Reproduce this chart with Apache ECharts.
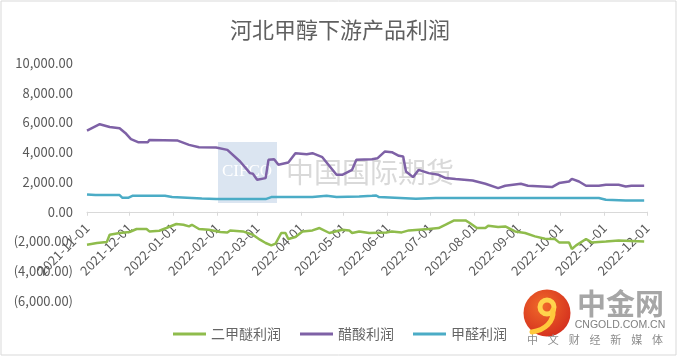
<!DOCTYPE html>
<html><head><meta charset="utf-8">
<script src="https://cdn.jsdelivr.net/npm/echarts@6/dist/echarts.min.js"></script>
<style>html,body{margin:0;padding:0;background:#fff}#c{width:680px;height:358px}</style>
</head><body><div id="c"></div>
<script>
// ---- data ----
var monthTicks = ['2021-11-01','2021-12-01','2022-01-01','2022-02-01','2022-03-01','2022-04-01','2022-05-01','2022-06-01','2022-07-01','2022-08-01','2022-09-01','2022-10-01','2022-11-01','2022-12-01'];
var seriesNames = ['二甲醚利润','醋酸利润','甲醛利润'];

var dmeDates = ['2021-11-01','2021-11-08','2021-11-15','2021-11-17','2021-11-24','2021-12-01','2021-12-06','2021-12-13','2021-12-15','2021-12-22','2021-12-27','2022-01-03','2022-01-08','2022-01-12','2022-01-14','2022-01-19','2022-01-26','2022-02-03','2022-02-08','2022-02-10','2022-02-19','2022-02-26','2022-03-03','2022-03-07','2022-03-11','2022-03-14','2022-03-18','2022-03-21','2022-03-23','2022-03-28','2022-04-02','2022-04-09','2022-04-14','2022-04-21','2022-04-30','2022-05-05','2022-05-07','2022-05-12','2022-05-19','2022-05-31','2022-06-04','2022-06-11','2022-06-16','2022-06-23','2022-06-30','2022-07-07','2022-07-12','2022-07-18','2022-07-26','2022-07-29','2022-08-03','2022-08-09','2022-08-11','2022-08-18','2022-08-23','2022-08-30','2022-09-06','2022-09-13','2022-09-20','2022-09-27','2022-09-30','2022-10-07','2022-10-09','2022-10-12','2022-10-19','2022-10-23','2022-11-02','2022-11-11','2022-11-29'];
var dmeValues = [-2214,-2100,-2033,-1543,-1429,-1362,-1161,-1161,-1322,-1275,-1094,-825,-872,-986,-872,-1161,-1208,-1362,-1389,-1255,-1322,-1543,-1879,-2100,-2261,-2147,-1429,-1429,-1832,-1698,-1322,-1255,-1094,-1429,-1208,-1255,-1429,-1322,-1429,-1389,-1322,-1389,-1255,-1208,-1161,-1094,-872,-584,-584,-760,-1094,-1094,-939,-1027,-986,-1322,-1429,-1657,-1812,-1832,-2060,-2060,-2503,-2261,-1832,-2060,-1993,-1926,-1993];

var aceticDates = ['2021-11-01','2021-11-10','2021-11-17','2021-11-24','2021-11-28','2021-12-02','2021-12-07','2021-12-14','2021-12-15','2022-01-04','2022-01-12','2022-01-19','2022-01-31','2022-02-08','2022-02-17','2022-02-24','2022-02-26','2022-03-01','2022-03-07','2022-03-09','2022-03-13','2022-03-16','2022-03-23','2022-03-28','2022-04-05','2022-04-09','2022-04-16','2022-04-26','2022-04-30','2022-05-07','2022-05-10','2022-05-21','2022-05-25','2022-05-30','2022-06-04','2022-06-09','2022-06-12','2022-06-14','2022-06-19','2022-06-23','2022-06-30','2022-07-07','2022-07-12','2022-07-19','2022-07-31','2022-08-09','2022-08-18','2022-08-23','2022-09-03','2022-09-08','2022-09-25','2022-09-30','2022-10-07','2022-10-09','2022-10-14','2022-10-19','2022-10-28','2022-11-02','2022-11-11','2022-11-16','2022-11-20','2022-11-29'];
var aceticValues = [5455,5885,5700,5615,5300,4878,4677,4677,4831,4785,4496,4340,4316,4160,3375,2597,2550,2147,2261,3489,3536,3154,3308,3939,3872,3939,3670,2483,2483,2818,3489,3536,3600,4046,4006,3758,3713,2704,2328,2818,2597,2483,2261,2194,2100,1879,1590,1745,1879,1745,1657,1926,2033,2214,2033,1745,1745,1812,1812,1700,1745,1745];

var formalDates = ['2021-11-01','2021-11-07','2021-11-24','2021-11-26','2021-11-30','2021-12-03','2021-12-26','2021-12-31','2022-01-21','2022-01-31','2022-03-07','2022-03-11','2022-04-09','2022-04-19','2022-04-26','2022-05-12','2022-05-21','2022-05-24','2022-05-26','2022-06-21','2022-07-05','2022-10-28','2022-11-02','2022-11-16','2022-11-29'];
var formalValues = [1161,1120,1120,939,939,1074,1074,986,892,852,852,986,986,1074,986,1027,1074,1094,986,872,919,919,805,758,758];

var yTicks = {min:-6000, max:10000, interval:2000};

// ---- build axis categories (every calendar day) ----
var categories = [];
(function(){
  var d = new Date(Date.UTC(2021,10,1)), end = new Date(Date.UTC(2022,11,1));
  while (d <= end) { categories.push(d.toISOString().slice(0,10)); d = new Date(d.getTime()+86400000); }
})();
var idx = {}; categories.forEach(function(c,i){ idx[c]=i; });
function pairs(dates, vals){ return dates.map(function(d,i){ return [idx[d], vals[i]]; }); }
var tickSet = {}; monthTicks.forEach(function(m){ tickSet[m]=true; });
function showTick(i, v){ return !!tickSet[v]; }

function fmt(v){
  var s = Math.abs(v).toLocaleString('en-US',{minimumFractionDigits:2,maximumFractionDigits:2});
  return v < 0 ? '(' + s + ')' : s;
}

var colors = ['#8FBC4C','#7E61A6','#4BACC6'];
var txt = '#595959';
var cjk = '"Noto Sans CJK SC", "Microsoft YaHei", sans-serif';

var chart = echarts.init(document.getElementById('c'), null, {renderer:'canvas'});

var graphics = [
  {type:'rect', shape:{x:1,y:1,width:675,height:354}, style:{fill:null, stroke:'#d9d9d9', lineWidth:1}, z:-20, silent:true},
  {type:'rect', shape:{x:218,y:142,width:59,height:61}, style:{fill:'#dbe5f1'}, z:-10, silent:true},
  {type:'text', x:247, y:172, style:{text:'CIFCO', fill:'#ffffff', font:'17px "Liberation Serif", serif', textAlign:'center', textVerticalAlign:'middle'}, z:-9, silent:true},
  {type:'text', x:286, y:172, style:{text:'中国国际期货', fill:'#d9d9d9', font:'28px ' + cjk, textAlign:'left', textVerticalAlign:'middle'}, z:-9, silent:true},
  // logo
  {type:'circle', shape:{cx:547,cy:313,r:23.5}, style:{fill:new echarts.graphic.RadialGradient(0.4,0.35,0.8,[{offset:0,color:'#f06a2a'},{offset:1,color:'#d0261c'}])}, z:10, silent:true},
  {type:'arc', shape:{cx:547,cy:307,r:7,startAngle:0,endAngle:Math.PI*2}, style:{stroke:'#ffd34d', lineWidth:5, fill:null}, z:11, silent:true},
  {type:'bezierCurve', shape:{x1:553,y1:310,cpx1:554,cpy1:322,cpx2:545,cpy2:330,x2:532,y2:332}, style:{stroke:'#ffc93c', lineWidth:5, fill:null, lineCap:'round'}, z:11, silent:true},
  {type:'text', x:577, y:304, style:{text:'中金网', fill:'#a6a6a6', font:'bold 29px ' + cjk, textAlign:'left', textVerticalAlign:'middle'}, z:10, silent:true},
  {type:'text', x:620, y:325, style:{text:'CNGOLD.COM.CN', fill:'#808080', font:'10.5px "Liberation Sans", Arial, sans-serif', textAlign:'center', textVerticalAlign:'middle'}, z:10, silent:true}
];
var slogan = ['中','文','财','经','新','媒','体'];
slogan.forEach(function(ch,i){
  graphics.push({type:'text', x:532.5 + i*20.83, y:340, style:{text:ch, fill:'#8c8c8c', font:'11px ' + cjk, textAlign:'center', textVerticalAlign:'middle'}, z:10, silent:true});
});

chart.setOption({
  animation:false,
  backgroundColor:'#ffffff',
  title:{text:'河北甲醇下游产品利润', left:'center', top:14, textStyle:{color:'#606060', fontSize:22, fontWeight:'normal', fontFamily:cjk}},
  grid:{left:87, right:33, top:63, bottom:57, containLabel:false, outerBoundsMode:'none'},
  legend:{top:322, left:'center', icon:'rect', itemWidth:33, itemHeight:3, itemGap:19,
    textStyle:{color:'#666666', fontSize:14, fontFamily:cjk}, data:seriesNames},
  xAxis:{type:'category', data:categories, boundaryGap:false, position:'bottom', offset:0,
    axisLine:{onZero:false, lineStyle:{color:'#d9d9d9', width:1}},
    axisTick:{show:true, interval:showTick, length:4, lineStyle:{color:'#d9d9d9'}},
    axisLabel:{interval:showTick, rotate:45, margin:14, color:txt, fontSize:13, fontFamily:cjk},
    splitLine:{show:false}},
  yAxis:{type:'value', min:yTicks.min, max:yTicks.max, interval:yTicks.interval,
    axisLine:{show:false}, axisTick:{show:false}, splitLine:{show:false},
    axisLabel:{formatter:fmt, color:txt, fontSize:13, margin:14, fontFamily:cjk}},
  graphic:graphics,
  series:[
    {name:seriesNames[0], type:'line', data:pairs(dmeDates,dmeValues), symbol:'none', lineStyle:{color:colors[0], width:2.5}, itemStyle:{color:colors[0]}, z:3},
    {name:seriesNames[1], type:'line', data:pairs(aceticDates,aceticValues), symbol:'none', lineStyle:{color:colors[1], width:2.5}, itemStyle:{color:colors[1]}, z:3},
    {name:seriesNames[2], type:'line', data:pairs(formalDates,formalValues), symbol:'none', lineStyle:{color:colors[2], width:2.5}, itemStyle:{color:colors[2]}, z:3}
  ]
});
// place the category axis on the value axis' zero, via the library's own scale
var zeroY = chart.convertToPixel({yAxisIndex:0}, 0);
var minY = chart.convertToPixel({yAxisIndex:0}, yTicks.min);
chart.setOption({xAxis:{offset: zeroY - minY}});
</script></body></html>
